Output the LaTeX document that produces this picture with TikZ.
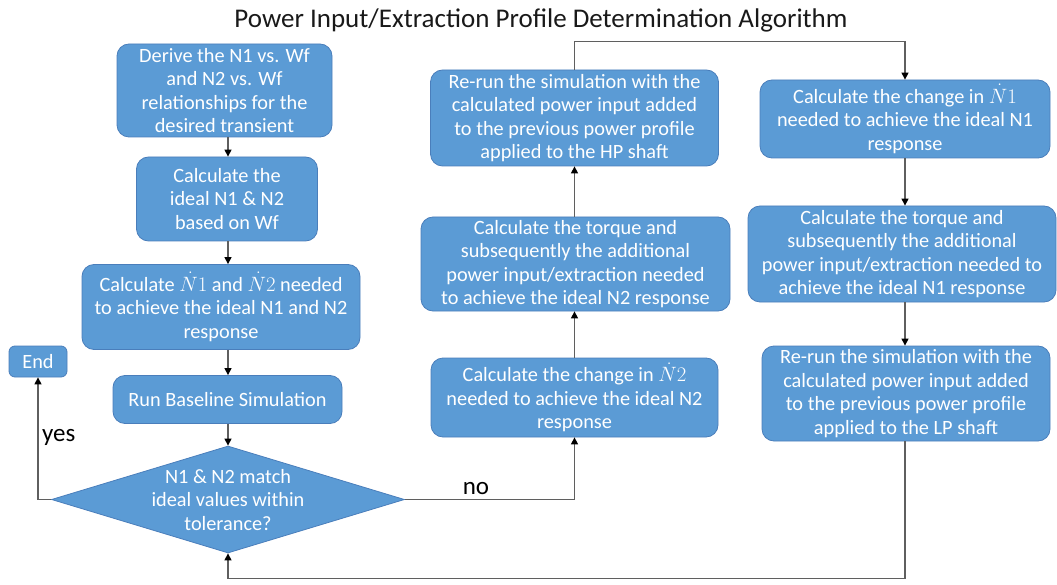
\documentclass[tikz,border=0pt]{standalone}
\usepackage{fontspec}
\setmainfont{Carlito}
\usetikzlibrary{arrows.meta,shapes.geometric,calc}

\definecolor{boxfill}{HTML}{5B9BD5}
\definecolor{boxline}{HTML}{4A7EBB}
\definecolor{linkgray}{HTML}{5F5F5F}

\tikzset{
  stepbox/.style={draw=boxline, fill=boxfill, line width=0.8pt,
    rounded corners=12pt, text=white, align=center, inner sep=0pt,
    font=\fontsize{20.3}{23.6}\selectfont},
  decbox/.style={draw=boxline, fill=boxfill, line width=0.8pt,
    shape=diamond, inner sep=0pt, minimum width=353pt, minimum height=107pt},
  dectext/.style={text=white, align=center, inner sep=0pt,
    font=\fontsize{20.3}{23.6}\selectfont},
  link/.style={draw=linkgray, line width=1.3pt,
    -{Triangle[length=7pt,width=7pt,color=black]}},
  answer/.style={font=\fontsize{25}{28}\selectfont, inner sep=0pt}
}

\begin{document}
\begin{tikzpicture}[x=1pt,y=-1pt]
\useasboundingbox (0,0) rectangle (1057,585);

% title
\node[font=\fontsize{27}{30}\selectfont, text=black!90] (title) at (541,20)
  {Power Input/Extraction Profile Determination Algorithm};

% left column
\node[stepbox, minimum width=215pt, minimum height=93pt] (derive) at (224.5,90.5)
  {Derive the N1 vs. Wf\\and N2 vs. Wf\\relationships for the\\desired transient};
\node[stepbox, minimum width=181pt, minimum height=84pt] (ideal) at (227,199)
  {Calculate the\\ideal N1 \& N2\\based on Wf};
\node[stepbox, minimum width=278pt, minimum height=85pt] (ndot) at (221,307)
  {Calculate $\dot{N}1$ and $\dot{N}2$ needed\\to achieve the ideal N1 and N2\\response};
\node[stepbox, minimum width=229pt, minimum height=48pt] (run) at (227.5,399.5)
  {Run Baseline Simulation};
\node[stepbox, rounded corners=6pt, minimum width=58pt, minimum height=31pt] (endn) at (38,361.5)
  {End};
\node[decbox] (dec) at (228,499.5) {};
\node[dectext] (dectxt) at (228,500)
  {N1 \& N2 match\\ideal values within\\tolerance?};

% middle column
\node[stepbox, minimum width=287pt, minimum height=79pt] (m3) at (574.5,397.5)
  {Calculate the change in $\dot{N}2$\\needed to achieve the ideal N2\\response};
\node[stepbox, minimum width=309pt, minimum height=94pt] (m2) at (575.5,264)
  {Calculate the torque and\\subsequently the additional\\power input/extraction needed\\to achieve the ideal N2 response};
\node[stepbox, minimum width=288pt, minimum height=96pt] (m1) at (574.5,118)
  {Re-run the simulation with the\\calculated power input added\\to the previous power profile\\applied to the HP shaft};

% right column
\node[stepbox, minimum width=290pt, minimum height=78pt] (r1) at (905,119)
  {Calculate the change in $\dot{N}1$\\needed to achieve the ideal N1\\response};
\node[stepbox, minimum width=308pt, minimum height=96pt] (r2) at (902,254)
  {Calculate the torque and\\subsequently the additional\\power input/extraction needed to\\achieve the ideal N1 response};
\node[stepbox, minimum width=288pt, minimum height=95pt] (r3) at (906,393.5)
  {Re-run the simulation with the\\calculated power input added\\to the previous power profile\\applied to the LP shaft};

% connectors, left column
\draw[link] (dec.north |- derive.south) -- (dec.north |- ideal.north);
\draw[link] (dec.north |- ideal.south) -- (dec.north |- ndot.north);
\draw[link] (dec.north |- ndot.south) -- (dec.north |- run.north);
\draw[link] (dec.north |- run.south) -- (dec.north);
\draw[link] (dec.west) -| (endn.south);
\node[answer, anchor=west] (yes) at (42,437) {yes};

% decision to the middle column
\draw[link] (dec.east) -| (m3.south);
\node[answer] (no) at (476,489) {no};
\draw[link] (m3.north) -- (m3.north |- m2.south);
\draw[link] (m3.north |- m2.north) -- (m3.north |- m1.south);

% over the top to the right column
\draw[link] (m1.north) -- ++(0,-28) -| (r1.north);
\draw[link] (r1.south) -- (r1.south |- r2.north);
\draw[link] (r1.south |- r2.south) -- (r1.south |- r3.north);

% back round to the decision
\draw[link] (r1.south |- r3.south) -- ++(0,137) -| (dec.south);
\end{tikzpicture}
\end{document}
